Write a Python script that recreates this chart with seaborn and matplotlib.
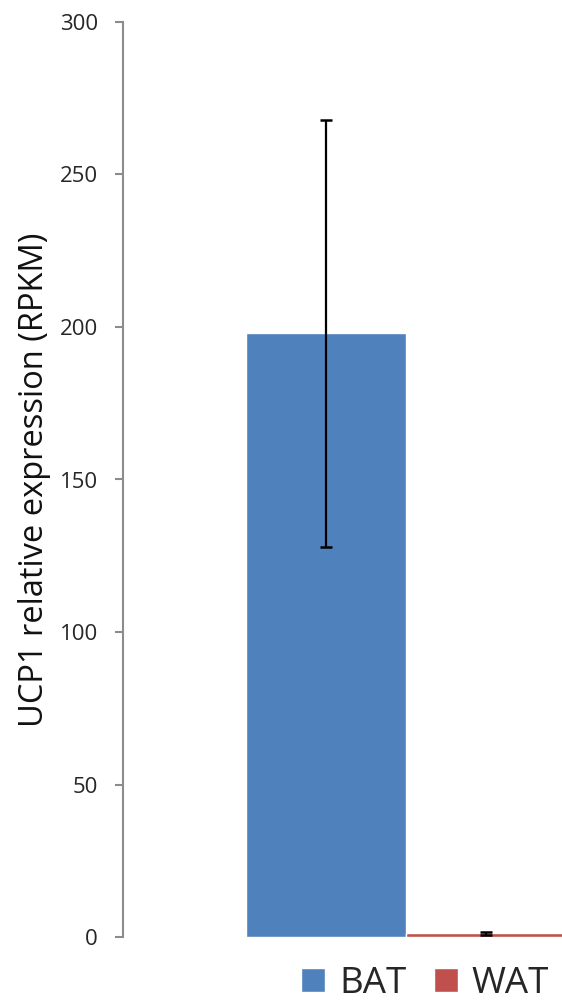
import matplotlib.pyplot as plt
import seaborn as sns
import pandas as pd

# values
tissues = ["BAT", "WAT"]
expression = [198, 1.2]
errors = [70, 0.5]
yticks = [0, 50, 100, 150, 200, 250, 300]
colors = ["#4F81BD", "#C0504D"]

sns.set_style("white")
plt.rcParams["font.family"] = ["Open Sans", "DejaVu Sans"]

df = pd.DataFrame({"gene": ["UCP1"] * len(tissues), "tissue": tissues, "rpkm": expression})

fig = plt.figure(figsize=(5.62, 10.05), dpi=100)
ax = fig.add_axes([123 / 562, 68 / 1005, 566 / 562, 915 / 1005])

sns.barplot(data=df, x="gene", y="rpkm", hue="tissue", palette=colors,
            errorbar=None, width=0.8, saturation=1, ax=ax)

for cont, err in zip(ax.containers, errors):
    bar = cont[0]
    ax.errorbar(bar.get_x() + bar.get_width() / 2, bar.get_height(), yerr=err,
                fmt="none", ecolor="black", elinewidth=1.6, capsize=4.5, capthick=1.8)

ax.set_xlim(-0.7075, 0.7075)
ax.set_ylim(0, 300)
ax.set_yticks(yticks)
ax.set_xticks([])
ax.set_xlabel("")
ax.set_ylabel("UCP1 relative expression (RPKM)", fontsize=23.5, color="#111111")
ax.yaxis.set_label_coords(-0.128, 0.5)

for side in ["top", "right", "bottom"]:
    ax.spines[side].set_visible(False)
ax.spines["left"].set_color("#8C8C8C")
ax.spines["left"].set_linewidth(1.5)
ax.tick_params(axis="y", direction="out", length=6, width=1.5, color="#8C8C8C",
               labelsize=16, labelcolor="#262626", pad=12, left=True)

sns.move_legend(ax, loc="center", bbox_to_anchor=(425 / 562, 1 - 984 / 1005),
                bbox_transform=fig.transFigure, ncol=2, frameon=False, title=None,
                fontsize=26.5, handlelength=0.65, handleheight=0.65,
                handletextpad=0.37, columnspacing=0.75, borderpad=0)

fig.savefig("out.png", dpi=100)
